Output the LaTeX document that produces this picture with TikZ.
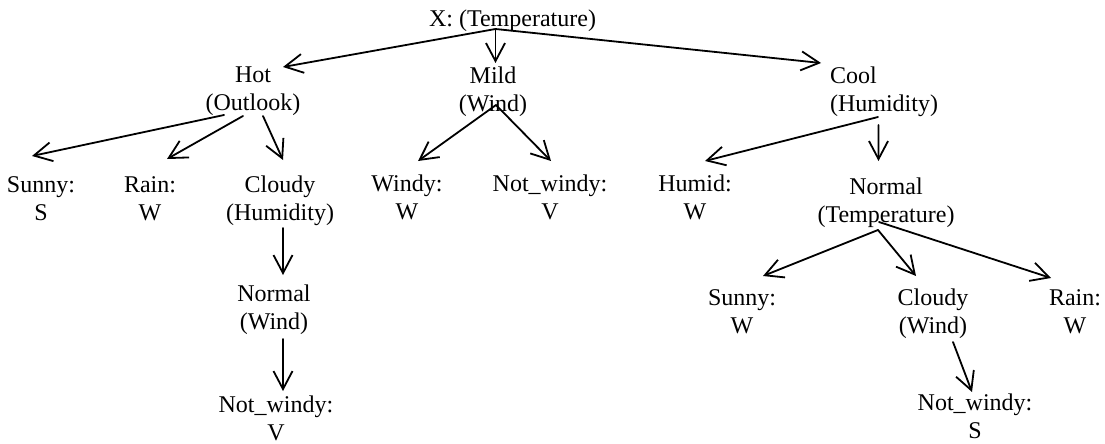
\documentclass[tikz,border=0pt]{standalone}
\usepackage{fontspec}
\setmainfont{Liberation Serif}
\usetikzlibrary{arrows.meta,calc}
\begin{document}
\begin{tikzpicture}[x=1pt,y=-1pt,
  lbl/.style={font=\fontsize{24}{28}\selectfont, align=center, inner sep=0pt, outer sep=0pt, anchor=north},
  arr/.style={line width=1.8pt, line cap=round, -{Straight Barb[length=18pt,width=19pt]}},
]
\useasboundingbox (0,0) rectangle (1105,444);

% nodes
\node[lbl, anchor=base] (top) at (512.5,27) {\strut X: (Temperature)};
\node[lbl] (hot)  at (253,62.4) {\strut Hot\\\strut (Outlook)};
\node[lbl] (mild) at (493,63.4) {\strut Mild\\\strut (Wind)};
\node[lbl, align=left, anchor=north west] (cool) at (830,63.4) {\strut Cool\\\strut (Humidity)};

\node[lbl] (sunny1)    at (41,172.4)  {\strut Sunny:\\\strut S};
\node[lbl] (rain1)     at (150,172.4) {\strut Rain:\\\strut W};
\node[lbl] (cloudy1)   at (280,172.4) {\strut Cloudy\\\strut (Humidity)};
\node[lbl] (normal1)   at (274,281.4) {\strut Normal\\\strut (Wind)};
\node[lbl] (notwindy1) at (276,392.4) {\strut Not\_windy:\\\strut V};

\node[lbl] (windy)     at (407,171.4) {\strut Windy:\\\strut W};
\node[lbl] (notwindy2) at (550,171.4) {\strut Not\_windy:\\\strut V};

\node[lbl] (humid)     at (695,171.4) {\strut Humid:\\\strut W};
\node[lbl] (normal2)   at (886,174.4) {\strut Normal\\\strut (Temperature)};
\node[lbl] (sunny2)    at (742,285.4) {\strut Sunny:\\\strut W};
\node[lbl] (cloudy2)   at (933,285.4) {\strut Cloudy\\\strut (Wind)};
\node[lbl] (rain2)     at (1075,285.4) {\strut Rain:\\\strut W};
\node[lbl] (notwindy3) at (975,390.4) {\strut Not\_windy:\\\strut S};

% connectors
\coordinate (tfork) at ($(top.south)+(-17,-6.4)$);
\draw[arr] (tfork) -- ($(hot.north)+(30,4.6)$);
\draw[arr] (tfork) -- ($(mild.north)+(2.5,-0.4)$);
\draw[arr] (tfork) -- ($(cool.north)+(-63,-0.4)$);

\draw[arr] ($(hot.south)+(-29,-3.4)$) -- ($(sunny1.north)+(-9,-16.4)$);
\draw[arr] ($(hot.south)+(-10,-2.4)$) -- ($(rain1.north)+(17,-13.4)$);
\draw[arr] ($(hot.south)+(10,-2.4)$)  -- ($(cloudy1.north)+(3,-12.4)$);

\coordinate (mfork) at ($(mild.south)+(3,-14.4)$);
\draw[arr] (mfork) -- ($(windy.north)+(11,-10.4)$);
\draw[arr] (mfork) -- ($(notwindy2.north)+(1,-10.4)$);

\draw[arr] ($(cool.south)+(-6,-2.4)$) -- ($(humid.north)+(10,-10.4)$);
\draw[arr] ($(cool.south)+(-5.5,5.6)$) -- ($(normal2.north)+(-7.5,-13.4)$);

\draw[arr] ($(cloudy1.south)+(3,-0.4)$) -- ($(normal1.north)+(9,-6.4)$);
\draw[arr] ($(normal1.south)+(9,1.6)$) -- ($(notwindy1.north)+(7,-1.4)$);

\coordinate (nfork) at ($(normal2.south)+(-8,-0.4)$);
\draw[arr] (nfork) -- ($(sunny2.north)+(21,-9.4)$);
\draw[arr] (nfork) -- ($(cloudy2.north)+(-17,-9.4)$);
\draw[arr] ($(normal2.south)+(-7,-8.4)$) -- ($(rain2.north)+(-24,-7.4)$);

\draw[arr] ($(cloudy2.south)+(20,0.6)$) -- ($(notwindy3.north)+(-3,1.6)$);
\end{tikzpicture}
\end{document}
